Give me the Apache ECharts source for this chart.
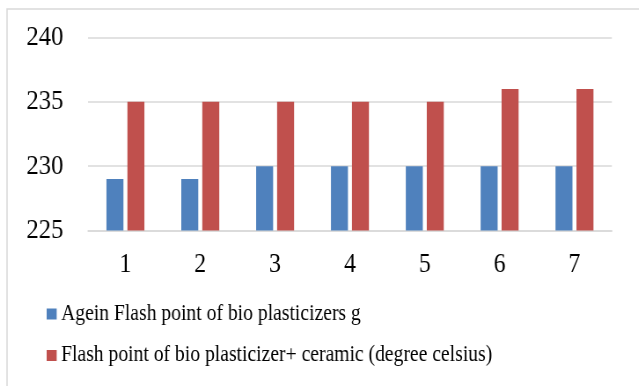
<!DOCTYPE html>
<html>
<head>
<meta charset="utf-8">
<style>
  html, body { margin: 0; padding: 0; background: #fff; overflow: hidden; }
  #wrap { width: 639px; height: 386px; overflow: hidden; }
  /* Chart is laid out wider and condensed horizontally for a narrow serif look */
  #chart { width: 726px; height: 386px; transform: scaleX(0.88); transform-origin: 0 0; }
</style>
<script src="https://cdn.jsdelivr.net/npm/echarts@6/dist/echarts.min.js"></script>
</head>
<body>
<div id="wrap"><div id="chart"></div></div>
<script>
// Flash point readings per sample (°C)
const categories = ['1', '2', '3', '4', '5', '6', '7'];
const ageinFlashPoint = [229, 229, 230, 230, 230, 230, 230];
const ceramicFlashPoint = [235, 235, 235, 235, 235, 236, 236];
const seriesNames = [
  'Agein Flash point of bio plasticizers g',
  'Flash point of bio plasticizer+ ceramic (degree celsius)'
];
const yTicks = { min: 225, max: 240, interval: 5 };

const serif = '"Liberation Serif", "Times New Roman", serif';
const chart = echarts.init(document.getElementById('chart'));

chart.setOption({
  animation: false,
  backgroundColor: '#ffffff',
  graphic: [{
    type: 'rect',
    shape: { x: 8, y: 9, width: 800, height: 400 },
    style: { fill: 'none', stroke: '#d9d9d9', lineWidth: 1.5 },
    silent: true
  }],
  grid: { left: 100, right: 30.7, top: 37.5, bottom: 155.5 },
  legend: {
    orient: 'vertical',
    left: 53,
    top: 302,
    padding: 0,
    itemWidth: 11.4,
    itemHeight: 11,
    itemGap: 17.5,
    icon: 'rect',
    textStyle: { fontFamily: serif, fontSize: 22.3, lineHeight: 24, color: '#000' },
    data: seriesNames
  },
  xAxis: {
    type: 'category',
    data: categories,
    axisLine: { lineStyle: { color: '#d9d9d9', width: 1.5 } },
    axisTick: { show: false },
    axisLabel: { fontFamily: serif, fontSize: 27, color: '#000', margin: 21 }
  },
  yAxis: {
    type: 'value',
    min: yTicks.min,
    max: yTicks.max,
    interval: yTicks.interval,
    axisLine: { show: false },
    axisTick: { show: false },
    splitLine: { lineStyle: { color: '#d9d9d9', width: 1.5 } },
    axisLabel: { fontFamily: serif, fontSize: 28, color: '#000', margin: 28 }
  },
  series: [
    {
      name: seriesNames[0],
      type: 'bar',
      data: ageinFlashPoint,
      barWidth: 19.3,
      barGap: '23.5%',
      itemStyle: { color: '#4f81bd' }
    },
    {
      name: seriesNames[1],
      type: 'bar',
      data: ceramicFlashPoint,
      barWidth: 19.3,
      itemStyle: { color: '#c0504d' }
    }
  ]
});
</script>
</body>
</html>
